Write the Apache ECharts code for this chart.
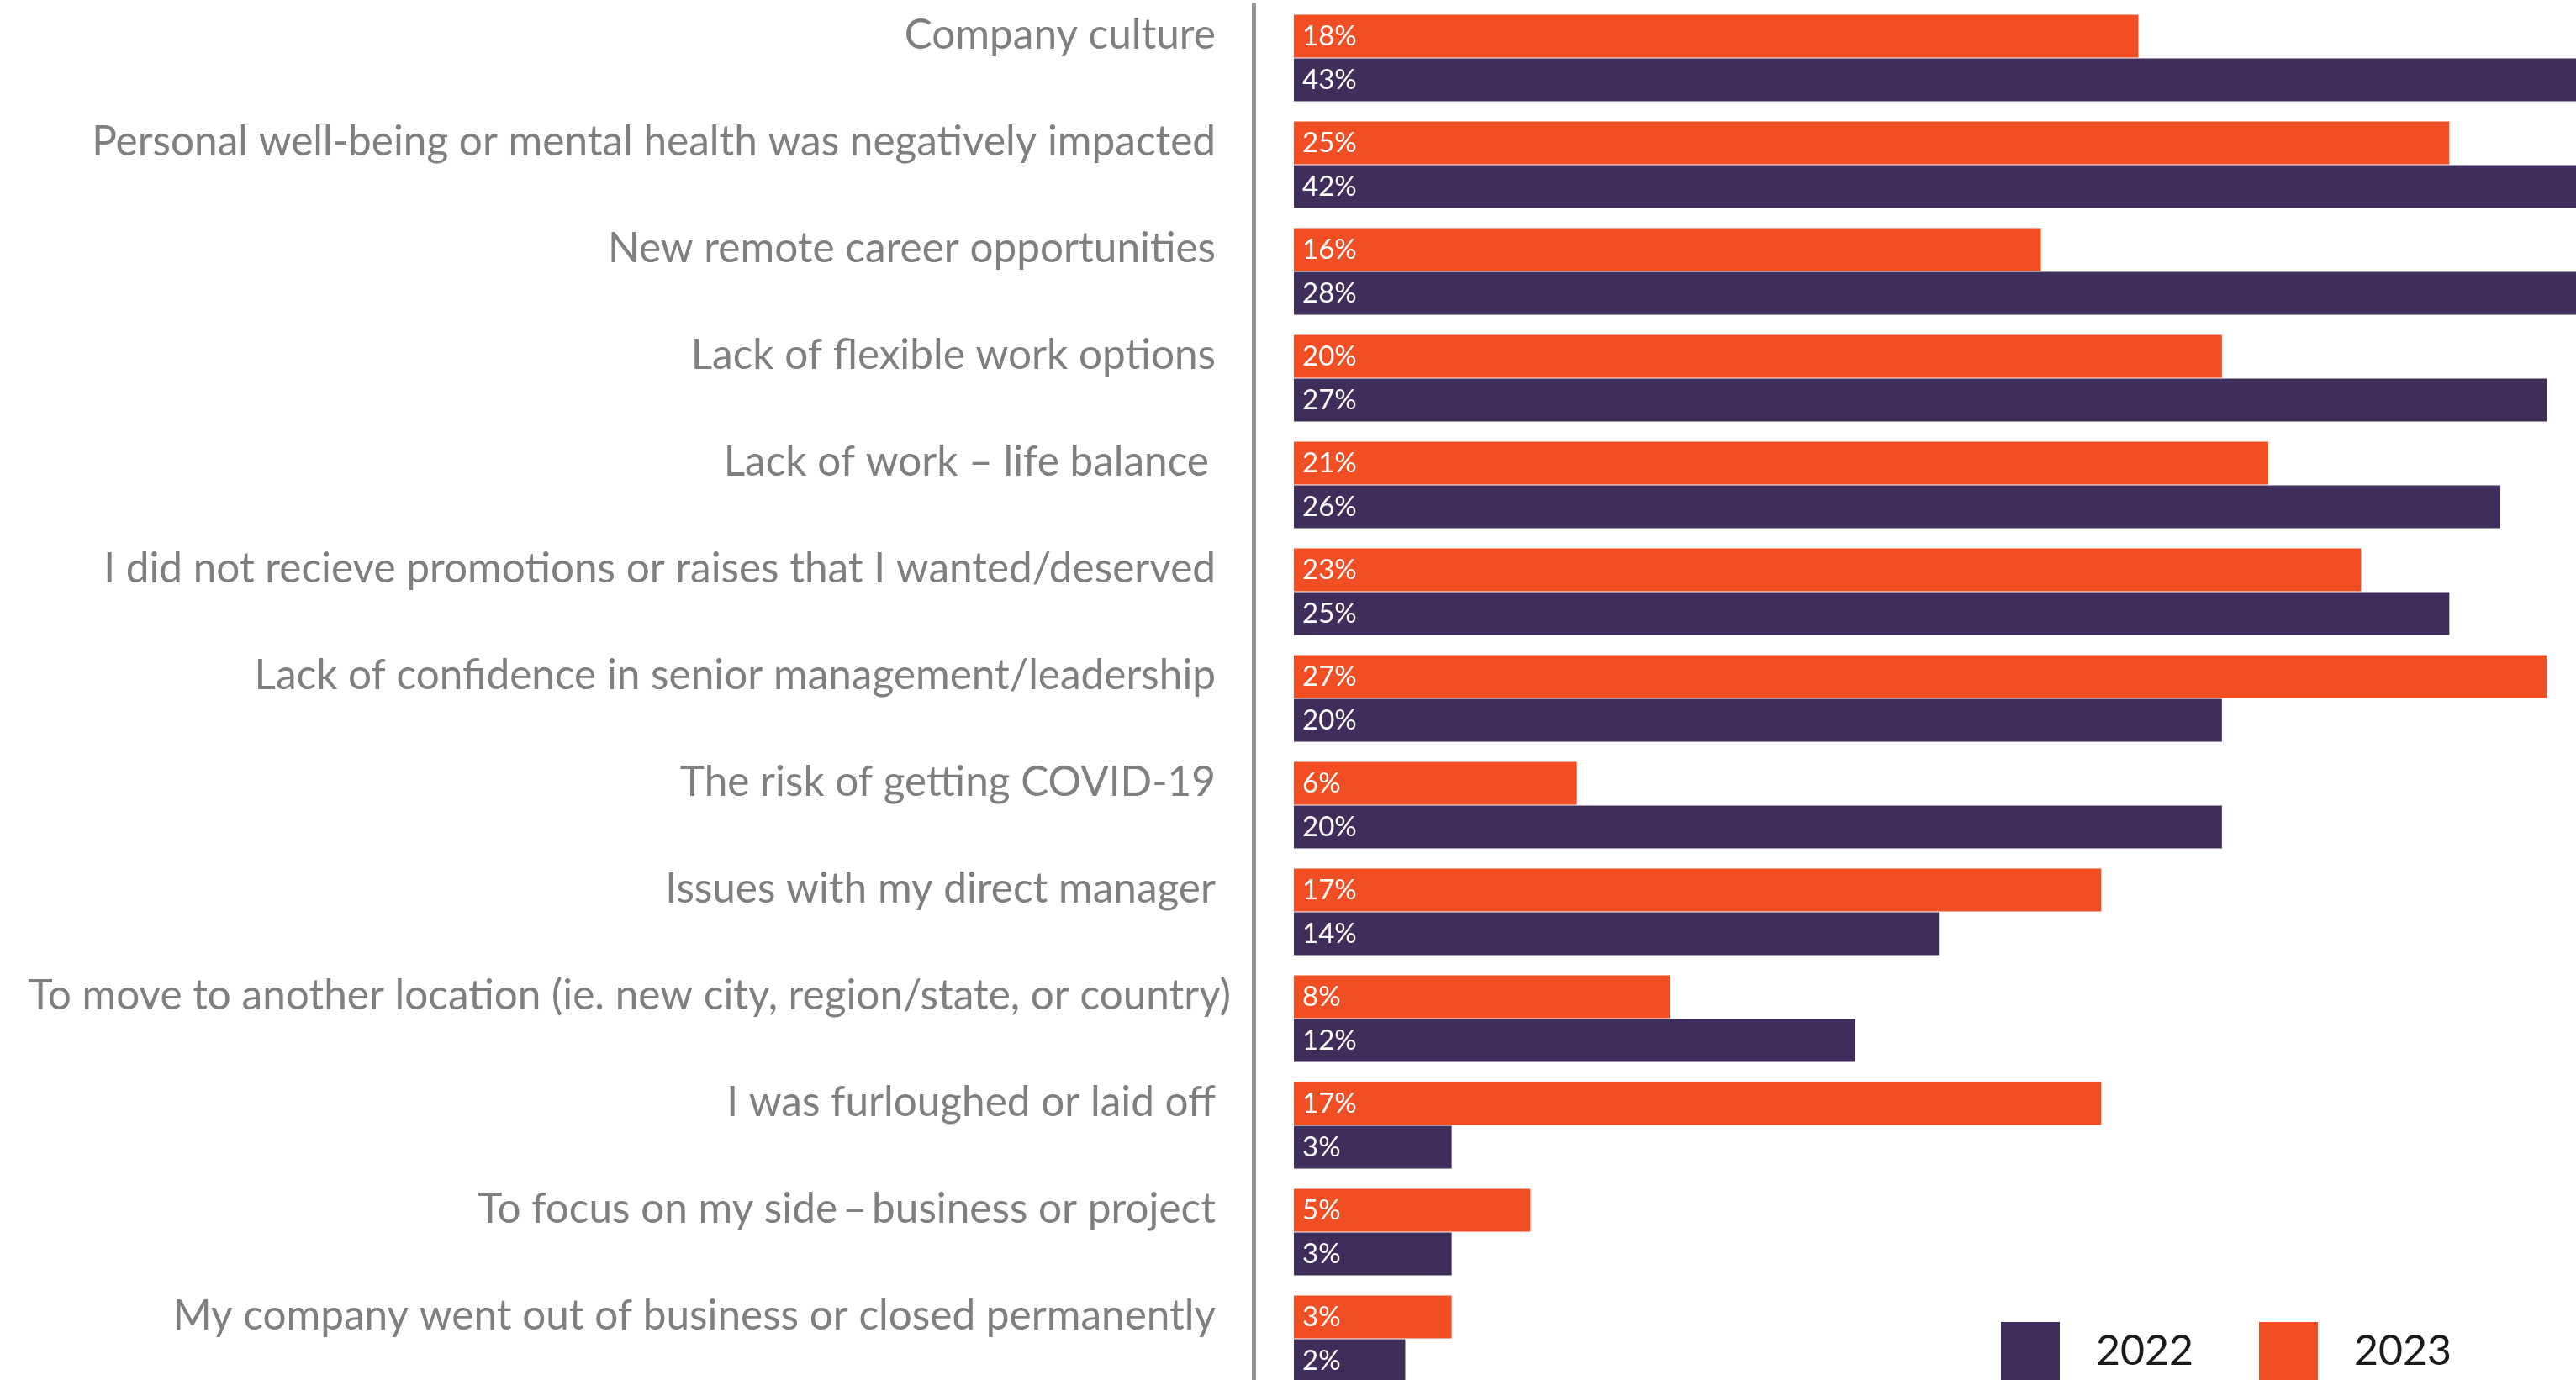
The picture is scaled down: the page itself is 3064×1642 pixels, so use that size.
<!DOCTYPE html>
<html>
<head>
<meta charset="utf-8">
<script src="https://cdn.jsdelivr.net/npm/echarts@6/dist/echarts.min.js"></script>
<style>
html,body{margin:0;padding:0;background:#fff;}
#chart{width:3064px;height:1642px;}
</style>
</head>
<body>
<div id="chart"></div>
<script>
const categories = [
  "Company culture",
  "Personal well-being or mental health was negatively impacted",
  "New remote career opportunities",
  "Lack of flexible work options",
  "Lack of work – life balance",
  "I did not recieve promotions or raises that I wanted/deserved",
  "Lack of confidence in senior management/leadership",
  "The risk of getting COVID-19",
  "Issues with my direct manager",
  "To move to another location (ie. new city, region/state, or country)",
  "I was furloughed or laid off",
  "To focus on my side\u2009–\u2009business or project",
  "My company went out of business or closed permanently"
];
const values2023 = [18.2, 24.9, 16.1, 20.0, 21.0, 23.0, 27.0, 6.1, 17.4, 8.1, 17.4, 5.1, 3.4];
const values2022 = [43, 42, 28, 27.0, 26.0, 24.9, 20.0, 20.0, 13.9, 12.1, 3.4, 3.4, 2.4];
const seriesNames = ["2023", "2022"];
const legendOrder = ["2022", "2023"];

const ORANGE = "#F24E23";
const PURPLE = "#3F2E5B";
const FONT = "Lato";

const chart = echarts.init(document.getElementById('chart'), null, {renderer: 'canvas'});

const labelPad = function (v) {
  if (v.indexOf("To move") === 0) return "{w|" + v + "}";
  if (v.indexOf("Lack of work") === 0) return "{b|" + v + "}";
  return "{n|" + v + "}";
};

const barLabel = {
  show: true,
  position: 'insideLeft',
  distance: 10,
  color: '#ffffff',
  fontSize: 33,
  fontFamily: FONT,
  formatter: function (p) { return Math.round(p.value) + '%'; }
};

const catStyle = {fontSize: 49.5, fontFamily: FONT, color: '#7F7F7F'};

chart.setOption({
  animation: false,
  backgroundColor: '#ffffff',
  grid: {left: 1539, right: 0, top: 5.5, height: 1651, containLabel: false, outerBoundsMode: 'none'},
  legend: {
    data: legendOrder,
    left: 2380,
    top: 1573,
    padding: 0,
    icon: 'rect',
    itemWidth: 70,
    itemHeight: 70,
    itemGap: 78,
    textStyle: {fontSize: 50, fontFamily: FONT, color: '#1a1a1a', padding: [0, 0, 0, 38]}
  },
  xAxis: {
    type: 'value',
    min: 0,
    max: 27.63,
    show: false,
    splitLine: {show: false}
  },
  yAxis: {
    type: 'category',
    data: categories,
    inverse: true,
    offset: 48,
    axisLine: {show: true, onZero: false, lineStyle: {color: '#939598', width: 5}},
    axisTick: {show: false},
    axisLabel: {
      margin: 27,
      formatter: labelPad,
      rich: {
        n: Object.assign({padding: [0, 18, 53, 0]}, catStyle),
        b: Object.assign({padding: [0, 26, 53, 0]}, catStyle),
        w: Object.assign({padding: [0, 0, 53, 0]}, catStyle)
      }
    }
  },
  series: [
    {
      name: seriesNames[0],
      type: 'bar',
      data: values2023,
      barWidth: 51,
      barGap: '2%',
      itemStyle: {color: ORANGE},
      label: barLabel
    },
    {
      name: seriesNames[1],
      type: 'bar',
      data: values2022,
      barWidth: 51,
      barGap: '2%',
      itemStyle: {color: PURPLE},
      label: barLabel
    }
  ]
});
</script>
</body>
</html>
